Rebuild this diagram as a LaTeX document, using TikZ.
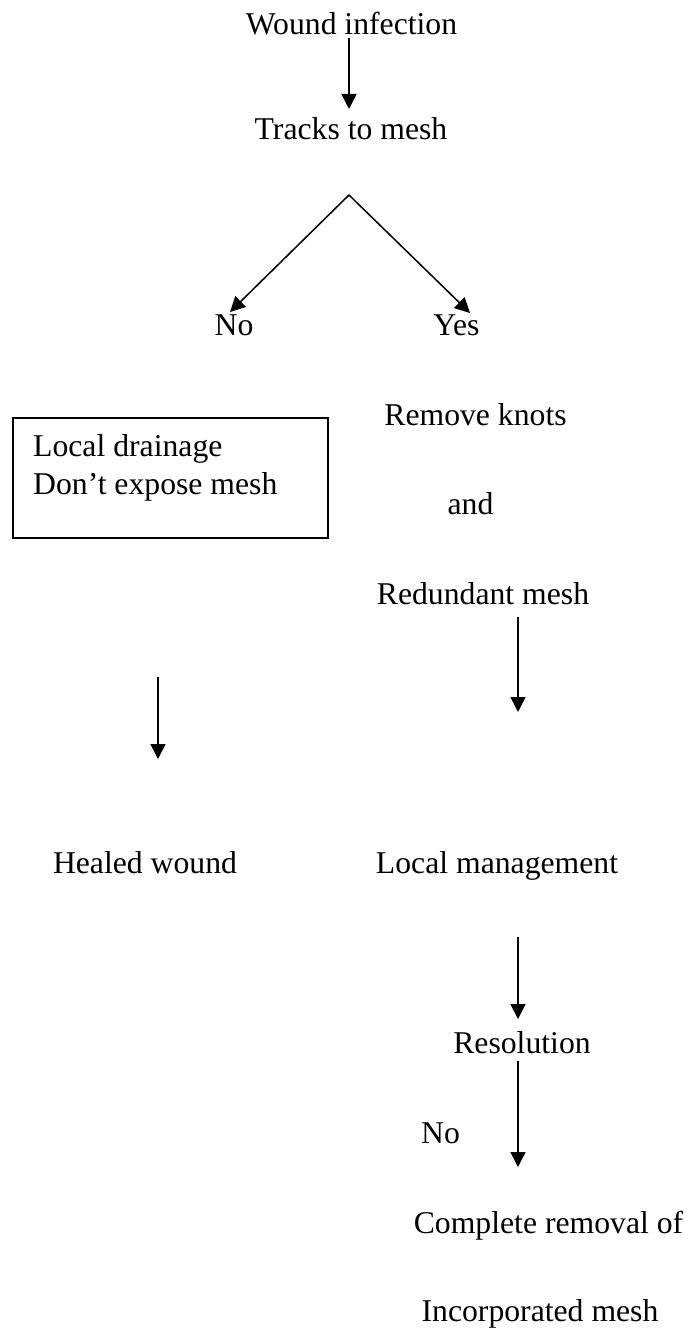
\documentclass[tikz,border=0pt]{standalone}
\usepackage{fontspec}
\setmainfont{Liberation Serif}
\usetikzlibrary{arrows.meta}
\newcommand\diagfont{\fontsize{31.7}{38}\selectfont}
\begin{document}
\begin{tikzpicture}[x=1pt,y=1pt,
  lbl/.style={inner sep=0pt, anchor=base, font=\diagfont},
  lblw/.style={inner sep=0pt, anchor=base west, font=\diagfont},
  arr/.style={line width=1.5pt, -{Triangle[length=15pt,width=15pt]}},
  boxframe/.style={draw, line width=1.5pt, inner sep=0pt, anchor=north west, minimum width=315pt, minimum height=120pt}]
\useasboundingbox (0,0) rectangle (693,-1332);
% texts
\node[lbl] (win) at (351.5,-35) {Wound infection};
\node[lbl] (trk) at (351,-140) {Tracks to mesh};
\node[lbl] (no1) at (234,-335) {No};
\node[lbl] (yes) at (456.5,-335) {Yes};
\node[lbl] (rk)  at (475.5,-425) {Remove knots};
\node[lbl] (and) at (470.5,-514) {and};
\node[lbl] (rm)  at (483,-604) {Redundant mesh};
\node[lbl] (hw)  at (145,-873) {Healed wound};
\node[lbl] (lm)  at (497,-873) {Local management};
\node[lbl] (res) at (522,-1053) {Resolution};
\node[lbl] (no2) at (440.5,-1143) {No};
\node[lbl] (cr)  at (548.5,-1233) {Complete removal of};
\node[lbl] (im)  at (540,-1321) {Incorporated mesh};
% box
\node[boxframe] (box) at (12,-417) {};
\node[lblw] (ld) at (33,-456) {Local drainage};
\node[lblw] (de) at (33,-494) {Don’t expose mesh};
% arrow coordinates
\coordinate (a1s) at (349,-38);
\coordinate (a1e) at (349,-109);
\coordinate (apex) at (349,-195);
\coordinate (vl) at (230,-312);
\coordinate (vr) at (470,-313);
\coordinate (a2s) at (518,-617);
\coordinate (a2e) at (518,-712);
\coordinate (a3s) at (158,-677);
\coordinate (a3e) at (158,-759);
\coordinate (a4s) at (518,-937);
\coordinate (a4e) at (518,-1019);
\coordinate (a5s) at (518,-1061);
\coordinate (a5e) at (518,-1167);
% arrows
\draw[arr] (a1s) -- (a1e);
\draw[arr] (apex) -- (vl);
\draw[arr] (apex) -- (vr);
\draw[arr] (a2s) -- (a2e);
\draw[arr] (a3s) -- (a3e);
\draw[arr] (a4s) -- (a4e);
\draw[arr] (a5s) -- (a5e);
\end{tikzpicture}
\end{document}
